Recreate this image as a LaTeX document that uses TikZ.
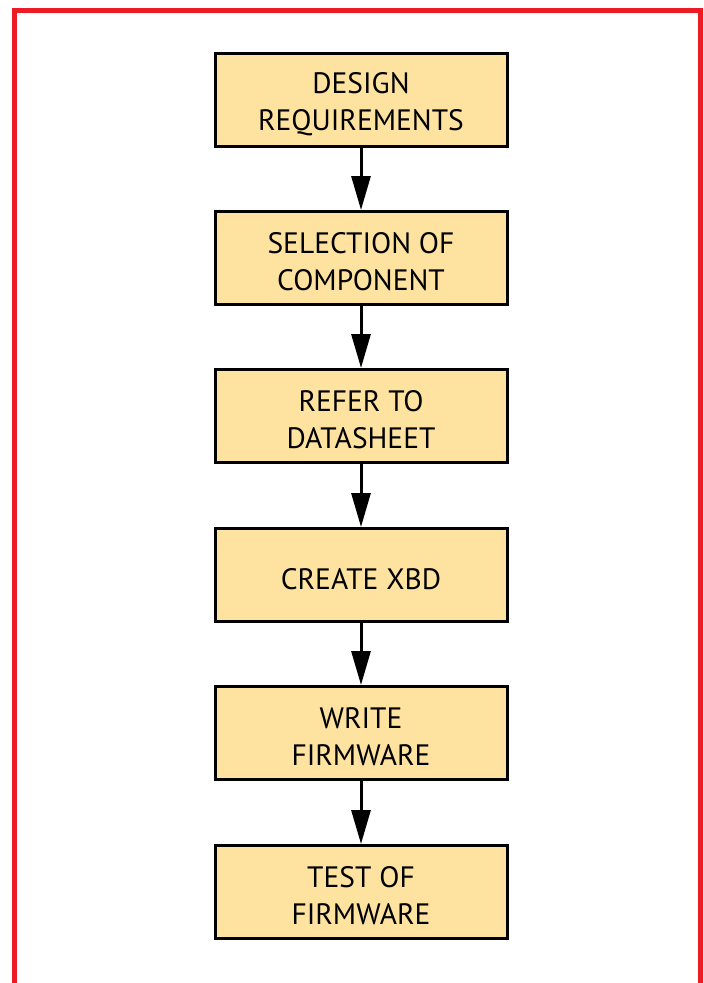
\documentclass[tikz,border=0pt]{standalone}
\usepackage{fontspec}
\setmainfont{PT Sans}
\usetikzlibrary{arrows.meta}
\definecolor{boxfill}{RGB}{254,226,160}
\definecolor{framered}{RGB}{237,28,36}
\tikzset{
  stepbox/.style={draw=black, line width=3pt, fill=boxfill, minimum width=292pt, minimum height=93pt,
    inner sep=0pt},
  steptext/.style={align=center, font=\fontsize{29.5}{37}\selectfont, inner sep=0pt, yshift=-4pt},
  flow/.style={line width=3pt, -{Triangle[length=34pt,width=19pt]}}
}
\begin{document}
\begin{tikzpicture}[x=1pt,y=-1pt]
\useasboundingbox (0,0) rectangle (704,983);
\draw[framered, line width=5pt] (14.5,990) -- (14.5,10.5) -- (700.5,10.5) -- (700.5,990);
\node[stepbox] (b1) at (361,100) {};
\node[stepbox] (b2) at (361,258) {};
\node[stepbox] (b3) at (361,416) {};
\node[stepbox] (b4) at (361,575) {};
\node[stepbox] (b5) at (361,733) {};
\node[stepbox] (b6) at (361,892) {};
\node[steptext] (t1) at (b1.center) {DESIGN\\REQUIREMENTS};
\node[steptext] (t2) at (b2.center) {SELECTION OF\\COMPONENT};
\node[steptext] (t3) at (b3.center) {REFER TO\\DATASHEET};
\node[steptext] (t4) at (b4.center) {CREATE XBD};
\node[steptext] (t5) at (b5.center) {WRITE\\FIRMWARE};
\node[steptext] (t6) at (b6.center) {TEST OF\\FIRMWARE};
\draw[flow] (b1) -- (b2);
\draw[flow] (b2) -- (b3);
\draw[flow] (b3) -- (b4);
\draw[flow] (b4) -- (b5);
\draw[flow] (b5) -- (b6);
\end{tikzpicture}
\end{document}
